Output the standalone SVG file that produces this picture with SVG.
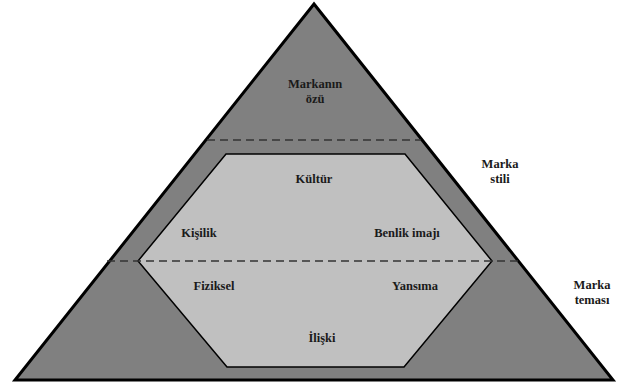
<svg xmlns="http://www.w3.org/2000/svg" width="625" height="383" viewBox="0 0 625 383">
<style>
.t{font-family:"Liberation Serif","DejaVu Serif",serif;font-weight:bold;font-size:12.5px;fill:#1a1a1a;text-anchor:middle}
.dash{stroke:#333;stroke-width:1.6;stroke-dasharray:8,5;fill:none}
</style>
<rect width="625" height="383" fill="#fff"/>
<g id="pyramid">
<polygon points="314,4 15,380 613,380" fill="#808080" stroke="#000" stroke-width="3" stroke-linejoin="miter"/>
</g>
<g id="hexagon">
<polygon points="226,154 405,154 492,261 404,367 227,367 138,261" fill="#c0c0c0" stroke="#000" stroke-width="1.5"/>
</g>
<g id="connectors">
<line class="dash" x1="207" y1="140" x2="421" y2="140"/>
<line class="dash" x1="107" y1="261" x2="520" y2="261"/>
</g>
<g id="marka-ozu">
<text class="t" x="315" y="88">Markanın</text>
<text class="t" x="315" y="103">özü</text>
</g>
<g id="kultur"><text class="t" x="314" y="183">Kültür</text></g>
<g id="kisilik"><text class="t" x="199" y="237">Kişilik</text></g>
<g id="benlik"><text class="t" x="407" y="237">Benlik imajı</text></g>
<g id="fiziksel"><text class="t" x="214" y="290">Fiziksel</text></g>
<g id="yansima"><text class="t" x="415" y="290">Yansıma</text></g>
<g id="iliski"><text class="t" x="322" y="342">İlişki</text></g>
<g id="marka-stili">
<text class="t" x="500" y="168">Marka</text>
<text class="t" x="500" y="183">stili</text>
</g>
<g id="marka-temasi">
<text class="t" x="592" y="289">Marka</text>
<text class="t" x="592" y="304">teması</text>
</g>
</svg>
